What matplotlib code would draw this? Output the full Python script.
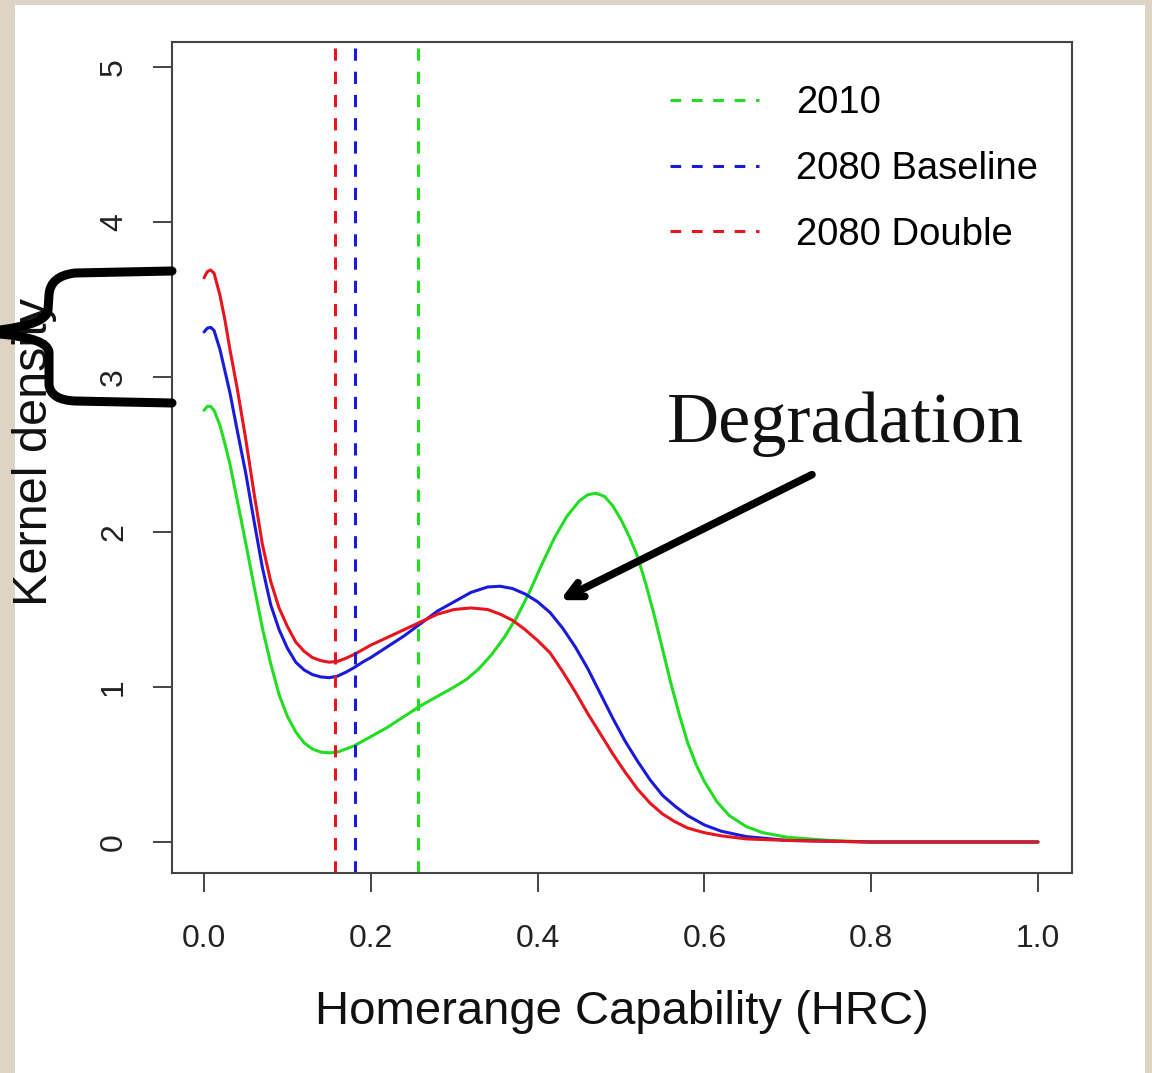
import numpy as np
import matplotlib
matplotlib.use("Agg")
import matplotlib.pyplot as plt
from matplotlib.path import Path
from matplotlib.patches import PathPatch, Rectangle
from matplotlib.lines import Line2D

# kernel density curves
x_2010 = [0.000, 0.004, 0.008, 0.012, 0.019, 0.025, 0.031, 0.040, 0.050, 0.060, 0.070, 0.080,
          0.090, 0.100, 0.110, 0.120, 0.130, 0.140, 0.150, 0.160, 0.170, 0.180, 0.190, 0.200,
          0.220, 0.240, 0.260, 0.280, 0.300, 0.315, 0.330, 0.345, 0.360, 0.375, 0.390, 0.405,
          0.420, 0.435, 0.450, 0.460, 0.470, 0.480, 0.490, 0.500, 0.510, 0.520, 0.530, 0.540,
          0.550, 0.560, 0.570, 0.580, 0.590, 0.600, 0.615, 0.630, 0.650, 0.670, 0.700, 0.750,
          0.800, 1.000]
y_2010 = [2.785, 2.81, 2.81, 2.785, 2.69, 2.57, 2.44, 2.20, 1.93, 1.65, 1.38, 1.15,
          0.95, 0.81, 0.71, 0.64, 0.60, 0.58, 0.575, 0.58, 0.60, 0.62, 0.65, 0.68,
          0.74, 0.81, 0.88, 0.94, 1.00, 1.05, 1.12, 1.21, 1.32, 1.45, 1.61, 1.79,
          1.96, 2.10, 2.20, 2.24, 2.25, 2.23, 2.17, 2.08, 1.97, 1.84, 1.66, 1.46,
          1.24, 1.02, 0.82, 0.64, 0.50, 0.39, 0.26, 0.17, 0.10, 0.06, 0.03, 0.01,
          0.0, 0.0]

x_base = [0.000, 0.004, 0.008, 0.012, 0.019, 0.025, 0.031, 0.040, 0.050, 0.060, 0.070, 0.080,
          0.090, 0.100, 0.110, 0.120, 0.130, 0.140, 0.150, 0.160, 0.170, 0.180, 0.190, 0.200,
          0.220, 0.240, 0.260, 0.280, 0.300, 0.320, 0.340, 0.355, 0.370, 0.385, 0.400, 0.415,
          0.430, 0.445, 0.460, 0.475, 0.490, 0.505, 0.520, 0.535, 0.550, 0.565, 0.580, 0.600,
          0.620, 0.650, 0.700, 0.800, 1.000]
y_base = [3.29, 3.315, 3.32, 3.30, 3.18, 3.04, 2.90, 2.65, 2.38, 2.07, 1.77, 1.53,
          1.37, 1.25, 1.16, 1.11, 1.08, 1.065, 1.06, 1.07, 1.095, 1.125, 1.16, 1.19,
          1.26, 1.33, 1.41, 1.49, 1.55, 1.61, 1.645, 1.65, 1.635, 1.60, 1.55, 1.48,
          1.38, 1.26, 1.12, 0.96, 0.80, 0.65, 0.52, 0.40, 0.30, 0.23, 0.17, 0.11,
          0.07, 0.035, 0.01, 0.0, 0.0]

x_double = [0.000, 0.004, 0.008, 0.012, 0.019, 0.025, 0.031, 0.040, 0.050, 0.060, 0.070, 0.080,
            0.090, 0.100, 0.110, 0.120, 0.130, 0.140, 0.150, 0.160, 0.170, 0.180, 0.190, 0.200,
            0.220, 0.240, 0.260, 0.280, 0.300, 0.320, 0.340, 0.355, 0.370, 0.385, 0.400, 0.415,
            0.430, 0.445, 0.460, 0.475, 0.490, 0.505, 0.520, 0.535, 0.550, 0.565, 0.580, 0.600,
            0.620, 0.650, 0.700, 0.800, 1.000]
y_double = [3.64, 3.68, 3.69, 3.67, 3.53, 3.37, 3.18, 2.92, 2.60, 2.25, 1.92, 1.68,
            1.51, 1.39, 1.29, 1.23, 1.19, 1.17, 1.16, 1.165, 1.185, 1.21, 1.24, 1.27,
            1.32, 1.37, 1.42, 1.47, 1.50, 1.51, 1.50, 1.47, 1.43, 1.37, 1.30, 1.22,
            1.10, 0.97, 0.83, 0.70, 0.57, 0.45, 0.34, 0.25, 0.18, 0.13, 0.09, 0.06,
            0.04, 0.02, 0.01, 0.0, 0.0]

# means shown as dashed verticals
labels = ["2010", "2080 Baseline", "2080 Double"]
colors = ["#22dd22", "#1a1adb", "#e8141e"]
means = [0.257, 0.181, 0.157]

xticks = [0.0, 0.2, 0.4, 0.6, 0.8, 1.0]
yticks = [0, 1, 2, 3, 4, 5]

W, H = 1152, 1073
fig = plt.figure(figsize=(W / 100, H / 100), dpi=100)
fig.patch.set_facecolor("#ddd4c6")
fig.patches.append(Rectangle((15 / W, 0), 1130 / W, 1 - 5 / H, transform=fig.transFigure,
                             facecolor="white", edgecolor="none", zorder=-10))

ax = fig.add_axes([172 / W, 1 - 873 / H, 900 / W, 831 / H])
ax.set_xlim(-0.0384, 1.0408)
ax.set_ylim(-0.2, 5.161)

lw = 2.2
series = [(x_2010, y_2010), (x_base, y_base), (x_double, y_double)]
for (xs, ys), c in zip(series, colors):
    ax.plot(xs, ys, color=c, lw=lw, solid_capstyle="round", solid_joinstyle="round")

for m, c in zip(means, colors):
    ax.axvline(m, color=c, lw=2.2, dashes=(4, 3.6))

for s in ax.spines.values():
    s.set_color("#444444")
    s.set_linewidth(1.5)

ax.set_xticks(xticks)
ax.set_xticklabels(["%.1f" % t for t in xticks])
ax.set_yticks(yticks)
ax.set_yticklabels([str(t) for t in yticks], rotation=90, va="center")
ax.tick_params(axis="both", length=14, width=1.4, color="#444444",
               labelsize=23, labelcolor="#222222")
ax.tick_params(axis="x", pad=23)
ax.tick_params(axis="y", pad=17)
for t in ax.get_xticklabels() + ax.get_yticklabels():
    t.set_fontfamily("Liberation Sans")

fig.text(622 / W, 1 - 1012 / H, "Homerange Capability (HRC)", ha="center", va="center",
         fontsize=34, family="Liberation Sans", color="#111111")
fig.text(35 / W, 1 - 452 / H, "Kernel density", ha="center", va="center", rotation=90,
         fontsize=35, family="Liberation Sans", color="#111111")

handles = [Line2D([], [], color=c, lw=2.2, dashes=(3.5, 3.5)) for c in colors]
ax.legend(handles, labels, loc="upper left", bbox_to_anchor=(0.553, 0.948), frameon=False,
          prop={"family": "Liberation Sans", "size": 27.5}, handlelength=2.35,
          handletextpad=0.95, labelspacing=0.78, borderpad=0, borderaxespad=0)

# annotation arrow and text
ax.annotate("", xy=(0.427, 1.56), xytext=(0.729, 2.37),
            arrowprops=dict(arrowstyle="->,head_length=1.1,head_width=0.55", lw=5.5,
                            color="black", shrinkA=0, shrinkB=0))
ax.text(0.769, 2.58, "Degradation", ha="center", va="baseline", fontsize=52,
        family="Liberation Serif", color="#111111")

# curly brace over the left axis
def px(x, y):
    return (x / W, 1 - y / H)

upper = [px(172, 271), px(75, 273), px(50, 276), px(49, 295), px(48, 310),
         px(47, 324), px(0, 330)]
upper_codes = [Path.MOVETO, Path.LINETO, Path.CURVE3, Path.CURVE3, Path.LINETO,
               Path.CURVE3, Path.CURVE3]
lower = [px(0, 334), px(47, 338), px(49, 352), px(49, 385), px(51, 400), px(75, 401),
         px(172, 403)]
lower_codes = [Path.MOVETO, Path.CURVE3, Path.CURVE3, Path.LINETO, Path.CURVE3,
               Path.CURVE3, Path.LINETO]
for verts, codes in [(upper, upper_codes), (lower, lower_codes)]:
    fig.patches.append(PathPatch(Path(verts, codes), transform=fig.transFigure,
                                 facecolor="none", edgecolor="black", lw=6.5,
                                 capstyle="round", joinstyle="round", zorder=5))

fig.savefig("out.png", dpi=100, facecolor=fig.get_facecolor())
